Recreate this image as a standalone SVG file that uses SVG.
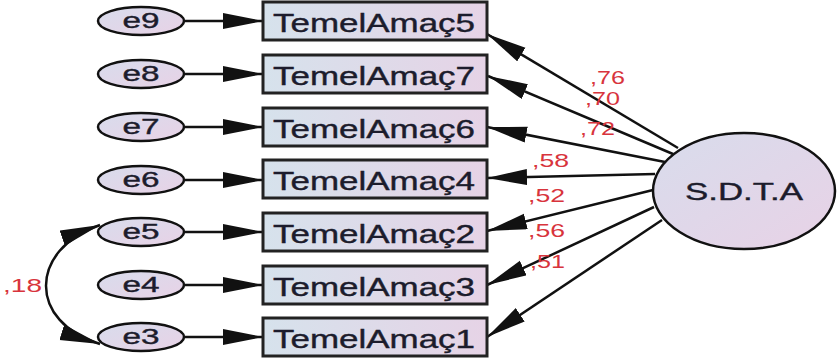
<svg xmlns="http://www.w3.org/2000/svg" width="837" height="362" viewBox="0 0 837 362">
  <defs>
    <linearGradient id="boxFill" x1="0" y1="0" x2="1" y2="0">
      <stop offset="0" stop-color="#d6e2ec"/>
      <stop offset="1" stop-color="#e6d3e6"/>
    </linearGradient>
    <linearGradient id="ovalFill" x1="0" y1="0" x2="1" y2="1">
      <stop offset="0" stop-color="#d8dcec"/>
      <stop offset="1" stop-color="#e8d2e6"/>
    </linearGradient>
    <marker id="head" markerUnits="userSpaceOnUse" markerWidth="42" markerHeight="18" refX="40" refY="8" orient="auto-start-reverse">
      <path d="M0,0 L40,8 L0,16 Z" fill="#111"/>
    </marker>
  </defs>
  <style>
    .box { fill: url(#boxFill); stroke: #222; stroke-width: 3; }
    .oval { fill: url(#ovalFill); stroke: #111; stroke-width: 2.5; }
    .lbl { font-family: "Liberation Sans", Arial, sans-serif; fill: #1c1c2c; stroke: #1c1c2c; stroke-width: 0.4; text-anchor: middle; }
    .var { font-size: 26px; }
    .err { font-size: 22px; }
    .coef { font-family: "Liberation Sans", Arial, sans-serif; font-size: 19px; fill: #d8343c; }
    .conn path, .conn line { stroke: #111; stroke-width: 2.5; fill: none; marker-end: url(#head); }
  </style>

  <!-- connectors -->
  <g id="connectors" class="conn">
    <!-- error terms to indicators -->
    <line x1="183" y1="21" x2="263" y2="21"/>
    <line x1="183" y1="74" x2="263" y2="74"/>
    <line x1="183" y1="127" x2="263" y2="127"/>
    <line x1="183" y1="180" x2="263" y2="180"/>
    <line x1="183" y1="232" x2="263" y2="232"/>
    <line x1="183" y1="285" x2="263" y2="285"/>
    <line x1="183" y1="337" x2="263" y2="337"/>
    <!-- latent factor to indicators -->
    <line x1="678" y1="148" x2="487" y2="34"/>
    <line x1="673" y1="154" x2="488" y2="76"/>
    <line x1="665" y1="162" x2="487" y2="127"/>
    <line x1="655" y1="174" x2="487" y2="178"/>
    <line x1="653" y1="190" x2="487" y2="231"/>
    <line x1="654" y1="207" x2="487" y2="285"/>
    <line x1="662" y1="220" x2="487" y2="337"/>
    <!-- covariance e5 - e3 -->
    <path d="M100,225 C28,250 28,322 100,344" marker-start="url(#head)"/>
  </g>

  <!-- error terms -->
  <g id="e9"><ellipse class="oval" cx="141" cy="21" rx="43" ry="14"/><text class="lbl err" x="141" y="28" textLength="37" lengthAdjust="spacingAndGlyphs">e9</text></g>
  <g id="e8"><ellipse class="oval" cx="141" cy="74" rx="43" ry="14"/><text class="lbl err" x="141" y="81" textLength="37" lengthAdjust="spacingAndGlyphs">e8</text></g>
  <g id="e7"><ellipse class="oval" cx="141" cy="127" rx="43" ry="14"/><text class="lbl err" x="141" y="134" textLength="37" lengthAdjust="spacingAndGlyphs">e7</text></g>
  <g id="e6"><ellipse class="oval" cx="141" cy="180" rx="43" ry="14"/><text class="lbl err" x="141" y="187" textLength="37" lengthAdjust="spacingAndGlyphs">e6</text></g>
  <g id="e5"><ellipse class="oval" cx="141" cy="232" rx="43" ry="14"/><text class="lbl err" x="141" y="239" textLength="37" lengthAdjust="spacingAndGlyphs">e5</text></g>
  <g id="e4"><ellipse class="oval" cx="141" cy="285" rx="43" ry="14"/><text class="lbl err" x="141" y="292" textLength="37" lengthAdjust="spacingAndGlyphs">e4</text></g>
  <g id="e3"><ellipse class="oval" cx="141" cy="337" rx="43" ry="14"/><text class="lbl err" x="141" y="344" textLength="37" lengthAdjust="spacingAndGlyphs">e3</text></g>

  <!-- observed indicators -->
  <g id="TemelAmac5"><rect class="box" x="263" y="2" width="224" height="38"/><text class="lbl var" x="374" y="32" textLength="202" lengthAdjust="spacingAndGlyphs">TemelAmaç5</text></g>
  <g id="TemelAmac7"><rect class="box" x="263" y="55" width="224" height="38"/><text class="lbl var" x="374" y="85" textLength="202" lengthAdjust="spacingAndGlyphs">TemelAmaç7</text></g>
  <g id="TemelAmac6"><rect class="box" x="263" y="108" width="224" height="38"/><text class="lbl var" x="374" y="138" textLength="202" lengthAdjust="spacingAndGlyphs">TemelAmaç6</text></g>
  <g id="TemelAmac4"><rect class="box" x="263" y="160" width="224" height="38"/><text class="lbl var" x="374" y="190" textLength="202" lengthAdjust="spacingAndGlyphs">TemelAmaç4</text></g>
  <g id="TemelAmac2"><rect class="box" x="263" y="213" width="224" height="38"/><text class="lbl var" x="374" y="243" textLength="202" lengthAdjust="spacingAndGlyphs">TemelAmaç2</text></g>
  <g id="TemelAmac3"><rect class="box" x="263" y="266" width="224" height="38"/><text class="lbl var" x="374" y="296" textLength="202" lengthAdjust="spacingAndGlyphs">TemelAmaç3</text></g>
  <g id="TemelAmac1"><rect class="box" x="263" y="318" width="224" height="38"/><text class="lbl var" x="374" y="348" textLength="202" lengthAdjust="spacingAndGlyphs">TemelAmaç1</text></g>

  <!-- latent factor -->
  <g id="SDTA"><ellipse class="oval" cx="744" cy="191" rx="91" ry="58"/><text class="lbl" x="744" y="200" font-size="24" textLength="118" lengthAdjust="spacingAndGlyphs">S.D.T.A</text></g>

  <!-- estimates -->
  <g id="estimates">
    <text class="coef" x="590" y="84" textLength="35" lengthAdjust="spacingAndGlyphs">,76</text>
    <text class="coef" x="585" y="105" textLength="35" lengthAdjust="spacingAndGlyphs">,70</text>
    <text class="coef" x="580" y="135" textLength="35" lengthAdjust="spacingAndGlyphs">,72</text>
    <text class="coef" x="532" y="167" textLength="37" lengthAdjust="spacingAndGlyphs">,58</text>
    <text class="coef" x="528" y="202" textLength="37" lengthAdjust="spacingAndGlyphs">,52</text>
    <text class="coef" x="528" y="237" textLength="37" lengthAdjust="spacingAndGlyphs">,56</text>
    <text class="coef" x="530" y="268" textLength="35" lengthAdjust="spacingAndGlyphs">,51</text>
    <text class="coef" x="3" y="292" textLength="39" lengthAdjust="spacingAndGlyphs">,18</text>
  </g>
</svg>
